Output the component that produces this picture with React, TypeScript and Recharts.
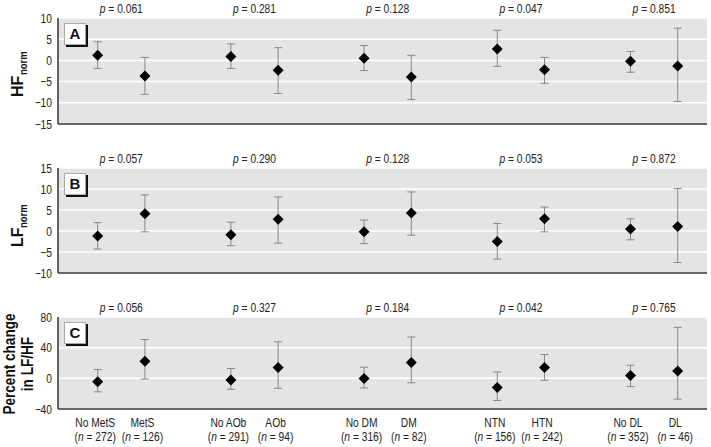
import React from 'react';
import { ScatterChart, Scatter, XAxis, YAxis, CartesianGrid, ErrorBar, ReferenceDot } from 'recharts';

// groups: metabolic syndrome and its components
const labels = ['No MetS', 'MetS', 'No AOb', 'AOb', 'No DM', 'DM', 'NTN', 'HTN', 'No DL', 'DL'];
const counts = [272, 126, 291, 94, 316, 82, 156, 242, 352, 46];

const pA = ['0.061', '0.281', '0.128', '0.047', '0.851'];
const pB = ['0.057', '0.290', '0.128', '0.053', '0.872'];
const pC = ['0.056', '0.327', '0.184', '0.042', '0.765'];

// HFnorm
const hfMean = [1.2, -3.7, 0.9, -2.3, 0.5, -3.9, 2.7, -2.2, -0.2, -1.3];
const hfLow = [-1.9, -8.0, -1.9, -7.8, -2.4, -9.2, -1.4, -5.4, -2.8, -9.7];
const hfHigh = [4.4, 0.7, 3.9, 3.0, 3.5, 1.2, 7.1, 0.7, 2.1, 7.6];

// LFnorm
const lfMean = [-1.2, 4.1, -0.9, 2.8, -0.2, 4.3, -2.5, 2.9, 0.5, 1.1];
const lfLow = [-4.3, -0.2, -3.5, -2.9, -3.0, -1.0, -6.7, -0.2, -2.1, -7.5];
const lfHigh = [2.0, 8.6, 2.1, 8.1, 2.6, 9.3, 1.8, 5.7, 2.9, 10.1];

// percent change in LF/HF
const ratioMean = [-4.4, 22.3, -2.2, 14.0, -0.3, 20.7, -11.8, 14.0, 3.6, 9.7];
const ratioLow = [-17.6, -0.9, -14.3, -13.0, -12.5, -5.8, -28.9, -2.6, -10.8, -27.1];
const ratioHigh = [11.5, 50.7, 12.8, 47.6, 14.5, 53.9, 8.4, 31.1, 17.1, 66.5];

const GROUP_STEP = 2.82;
const xOf = (i: number) => Math.floor(i / 2) * GROUP_STEP + (i % 2);
const xTicks = labels.map((_, i) => xOf(i));
const groupCenters = pA.map((_, g) => g * GROUP_STEP + 0.5);

const FONT = "'Liberation Sans', Arial, sans-serif";
const SX = 0.82; // squeeze to look like a condensed face
const TEXT = '#222';

const build = (mean: number[], low: number[], high: number[]) =>
  mean.map((m, i) => ({ x: xOf(i), y: m, err: [+(m - low[i]).toFixed(2), +(high[i] - m).toFixed(2)] }));

const fmt = (v: number) => (v < 0 ? '\u2212' + Math.abs(v) : String(v));

// text drawn with horizontal squeeze
const NText = ({ x, y, anchor = 'middle', size = 12.5, children }: any) => (
  <g transform={`translate(${x},${y}) scale(${SX},1)`}>
    <text x={0} y={0} textAnchor={anchor} fontFamily={FONT} fontSize={size} fill={TEXT}>
      {children}
    </text>
  </g>
);

const Diamond = (props: any) => {
  const { cx, cy } = props;
  const r = 5.5;
  return <polygon points={`${cx},${cy - r} ${cx + r},${cy} ${cx},${cy + r} ${cx - r},${cy}`} fill="#000" />;
};

const PLabel = (value: string) => (props: any) => {
  const { viewBox } = props;
  const cx = viewBox.x + viewBox.width / 2;
  return (
    <NText x={cx} y={viewBox.y - 5}>
      <tspan fontStyle="italic">p</tspan> = {value}
    </NText>
  );
};

const XTick = (props: any) => {
  const { x, y, index } = props;
  const lx = x - 2.5;
  return (
    <g>
      <NText x={lx} y={y + 18}>{labels[index]}</NText>
      <NText x={lx} y={y + 31.5}>
        (<tspan fontStyle="italic">n</tspan> = {counts[index]})
      </NText>
    </g>
  );
};

const YTick = (props: any) => {
  const { x, y, payload } = props;
  return (
    <NText x={x} y={y + 4.5} anchor="end">
      {fmt(payload.value)}
    </NText>
  );
};

interface PanelProps {
  letter: string;
  top: number;
  height: number;
  xAxisHeight: number;
  data: { x: number; y: number; err: number[] }[];
  domain: [number, number];
  ticks: number[];
  pvals: string[];
  title: (vb: any) => React.ReactNode;
  showLabels?: boolean;
}

function Panel({ letter, top, height, xAxisHeight, data, domain, ticks, pvals, title, showLabels }: PanelProps) {
  const marginTop = 18;
  return (
    <div style={{ position: 'absolute', left: 0, top, width: 711, height }}>
      <ScatterChart width={711} height={height} margin={{ top: marginTop, right: 4, bottom: 0, left: 0 }}>
        <CartesianGrid vertical={false} stroke="#fff" strokeWidth={1.5} fill="#e4e4e4" />
        <XAxis
          type="number"
          dataKey="x"
          domain={[-0.84, 12.9]}
          ticks={xTicks}
          interval={0}
          allowDataOverflow
          height={xAxisHeight}
          tickLine={false}
          tickSize={0}
          tickMargin={0}
          tick={showLabels ? <XTick /> : false}
          axisLine={{ stroke: '#333', strokeWidth: 1.5 }}
        />
        <YAxis
          type="number"
          dataKey="y"
          domain={domain}
          ticks={ticks}
          interval={0}
          width={58}
          tickLine={false}
          tickSize={0}
          tickMargin={6}
          tick={<YTick />}
          axisLine={{ stroke: '#333', strokeWidth: 1.5 }}
          label={{ content: (p: any) => title(p.viewBox) }}
        />
        {groupCenters.map((gx, g) => (
          <ReferenceDot
            key={g}
            x={gx}
            y={domain[1]}
            r={0}
            fill="none"
            stroke="none"
            ifOverflow="visible"
            label={{ content: PLabel(pvals[g]) }}
          />
        ))}
        <Scatter data={data} shape={<Diamond />} isAnimationActive={false}>
          <ErrorBar dataKey="err" direction="y" width={4} stroke="#888" strokeWidth={1} />
        </Scatter>
      </ScatterChart>
      <div
        style={{
          position: 'absolute',
          left: 64,
          top: marginTop + 5,
          width: 20,
          height: 20,
          background: '#fff',
          border: '1px solid #aaa',
          boxShadow: '2px 2px 0 #111',
          fontFamily: FONT,
          fontWeight: 'bold',
          fontSize: 15,
          lineHeight: '20px',
          textAlign: 'center',
          color: '#111',
        }}
      >
        {letter}
      </div>
    </div>
  );
}

const normTitle = (main: string) => (vb: any) => (
  <g transform={`translate(23, ${vb.y + 79}) rotate(-90)`} fontFamily={FONT} fontWeight="bold" fill="#111">
    <text x={0} y={0} fontSize={16}>{main}</text>
    <g transform={`translate(${main === 'HF' ? 22 : 19}, 4) scale(${SX},1)`}>
      <text x={0} y={0} fontSize={11.5}>norm</text>
    </g>
  </g>
);

const ratioTitle = (vb: any) => {
  const cy = vb.y + vb.height / 2 + 1;
  return (
    <g fontFamily={FONT} fontWeight="bold" fontSize={16} fill="#111">
      <g transform={`translate(15, ${cy}) rotate(-90) scale(0.85,1)`}>
        <text x={0} y={0} textAnchor="middle">Percent change</text>
      </g>
      <g transform={`translate(33, ${cy}) rotate(-90) scale(0.85,1)`}>
        <text x={0} y={0} textAnchor="middle">in LF/HF</text>
      </g>
    </g>
  );
};

export default function App() {
  return (
    <div style={{ position: 'absolute', left: 0, top: 0, width: 711, height: 447, background: '#fff' }}>
      <Panel
        letter="A"
        top={0}
        height={130}
        xAxisHeight={6}
        data={build(hfMean, hfLow, hfHigh)}
        domain={[-15, 10]}
        ticks={[-15, -10, -5, 0, 5, 10]}
        pvals={pA}
        title={normTitle('HF')}
      />
      <Panel
        letter="B"
        top={150}
        height={130}
        xAxisHeight={7}
        data={build(lfMean, lfLow, lfHigh)}
        domain={[-10, 15]}
        ticks={[-10, -5, 0, 5, 10, 15]}
        pvals={pB}
        title={normTitle('LF')}
      />
      <Panel
        letter="C"
        top={299}
        height={148}
        xAxisHeight={38}
        data={build(ratioMean, ratioLow, ratioHigh)}
        domain={[-40, 80]}
        ticks={[-40, 0, 40, 80]}
        pvals={pC}
        title={ratioTitle}
        showLabels
      />
    </div>
  );
}
